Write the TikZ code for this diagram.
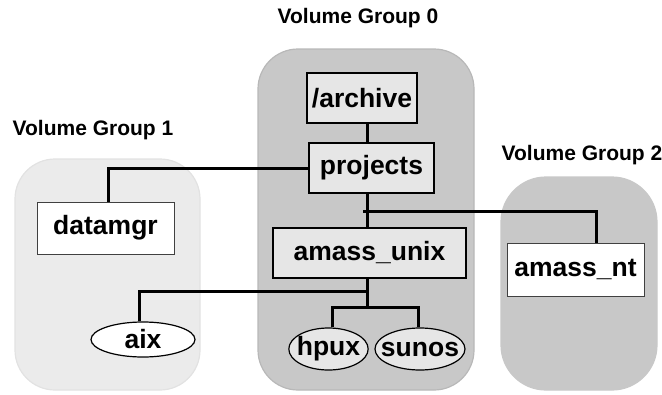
\documentclass[tikz,border=0pt]{standalone}
\usepackage{fontspec}
\setmainfont{Liberation Sans}
\usetikzlibrary{shapes.geometric}
\definecolor{grpdark}{HTML}{C8C8C8}
\definecolor{grpdarkedge}{HTML}{B8B8B8}
\definecolor{grplight}{HTML}{EBEBEB}
\definecolor{grplightedge}{HTML}{E2E2E2}
\definecolor{boxlight}{HTML}{E6E6E6}
\tikzset{
  grp/.style={rounded corners=40pt, line width=1.2pt},
  grplabel/.style={font=\bfseries\fontsize{21}{25}\selectfont, inner sep=0pt},
  heavybox/.style={draw=black, line width=2.4pt, fill=boxlight, inner sep=0pt,
    font=\bfseries\fontsize{26.5}{31}\selectfont},
  thinbox/.style={draw=black!75, line width=1pt, fill=white, inner sep=0pt,
    font=\bfseries\fontsize{26.5}{31}\selectfont},
  oval/.style={ellipse, draw=black, line width=1.2pt, inner sep=0pt,
    font=\bfseries\fontsize{26.5}{31}\selectfont},
  conn/.style={draw=black, line width=3pt}
}
\begin{document}
\begin{tikzpicture}[x=1pt, y=-1pt]
\useasboundingbox (0,0) rectangle (662,394);
% group backgrounds
\draw[grp, fill=grplight, draw=grplightedge] (15,159) rectangle (200,390);
\draw[grp, fill=grpdark, draw=grpdarkedge] (258,49) rectangle (474,390);
\draw[grp, rounded corners=45pt, fill=grpdark, draw=grpdark] (501,177) rectangle (657,390);
% group labels
\node[grplabel] (lbl0) at (358,18) {Volume Group 0};
\node[grplabel] (lbl1) at (93,130) {Volume Group 1};
\node[grplabel] (lbl2) at (582,155) {Volume Group 2};
% nodes
\node[heavybox, minimum width=110pt, minimum height=50pt] (archive) at (362,98) {/archive};
\node[heavybox, minimum width=125pt, minimum height=50pt] (projects) at (371.5,168) {projects};
\node[heavybox, minimum width=193pt, minimum height=50pt] (unix) at (369.5,253) {amass\_unix};
\node[thinbox, minimum width=137pt, minimum height=52pt] (datamgr) at (105.5,228) {datamgr};
\node[thinbox, minimum width=137pt, minimum height=53pt] (nt) at (575.5,269.5) {amass\_nt};
\node[oval, fill=white, minimum width=104pt, minimum height=35pt] (aix) at (143,339.5) {aix};
\node[oval, fill=boxlight, inner xsep=-3.6pt, minimum height=42pt] (hpux) at (328.5,349) {hpux};
\node[oval, fill=boxlight, inner xsep=-7.2pt, minimum height=42pt] (sunos) at (420,349) {sunos};
% helper coordinates
\coordinate (spine) at (367,0);
\coordinate (ntturn) at (596,211);
\coordinate (ntjoin) at (363,211);
\coordinate (dmturn) at (108,168);
\coordinate (aixturn) at (139,291);
\coordinate (aixjoin) at (367,291);
\coordinate (leafbar) at (367,307);
\coordinate (hpuxturn) at (332,307);
\coordinate (sunosturn) at (418,307);
% connectors
\draw[conn] (archive.south -| spine) -- (projects.north -| spine);
\draw[conn] (projects.south -| spine) -- (unix.north -| spine);
\draw[conn] (ntjoin) -- (ntturn) -- (ntturn |- nt.north);
\draw[conn] (projects.west) -- (dmturn) -- (dmturn |- datamgr.north);
\draw[conn] (unix.south -| spine) -- (leafbar);
\draw[conn] (aixjoin) -- (aixturn) -- (aixturn |- aix.north);
\draw[conn] (hpuxturn |- hpux.north) -- (hpuxturn) -- (sunosturn) -- (sunosturn |- sunos.north);
\end{tikzpicture}
\end{document}
